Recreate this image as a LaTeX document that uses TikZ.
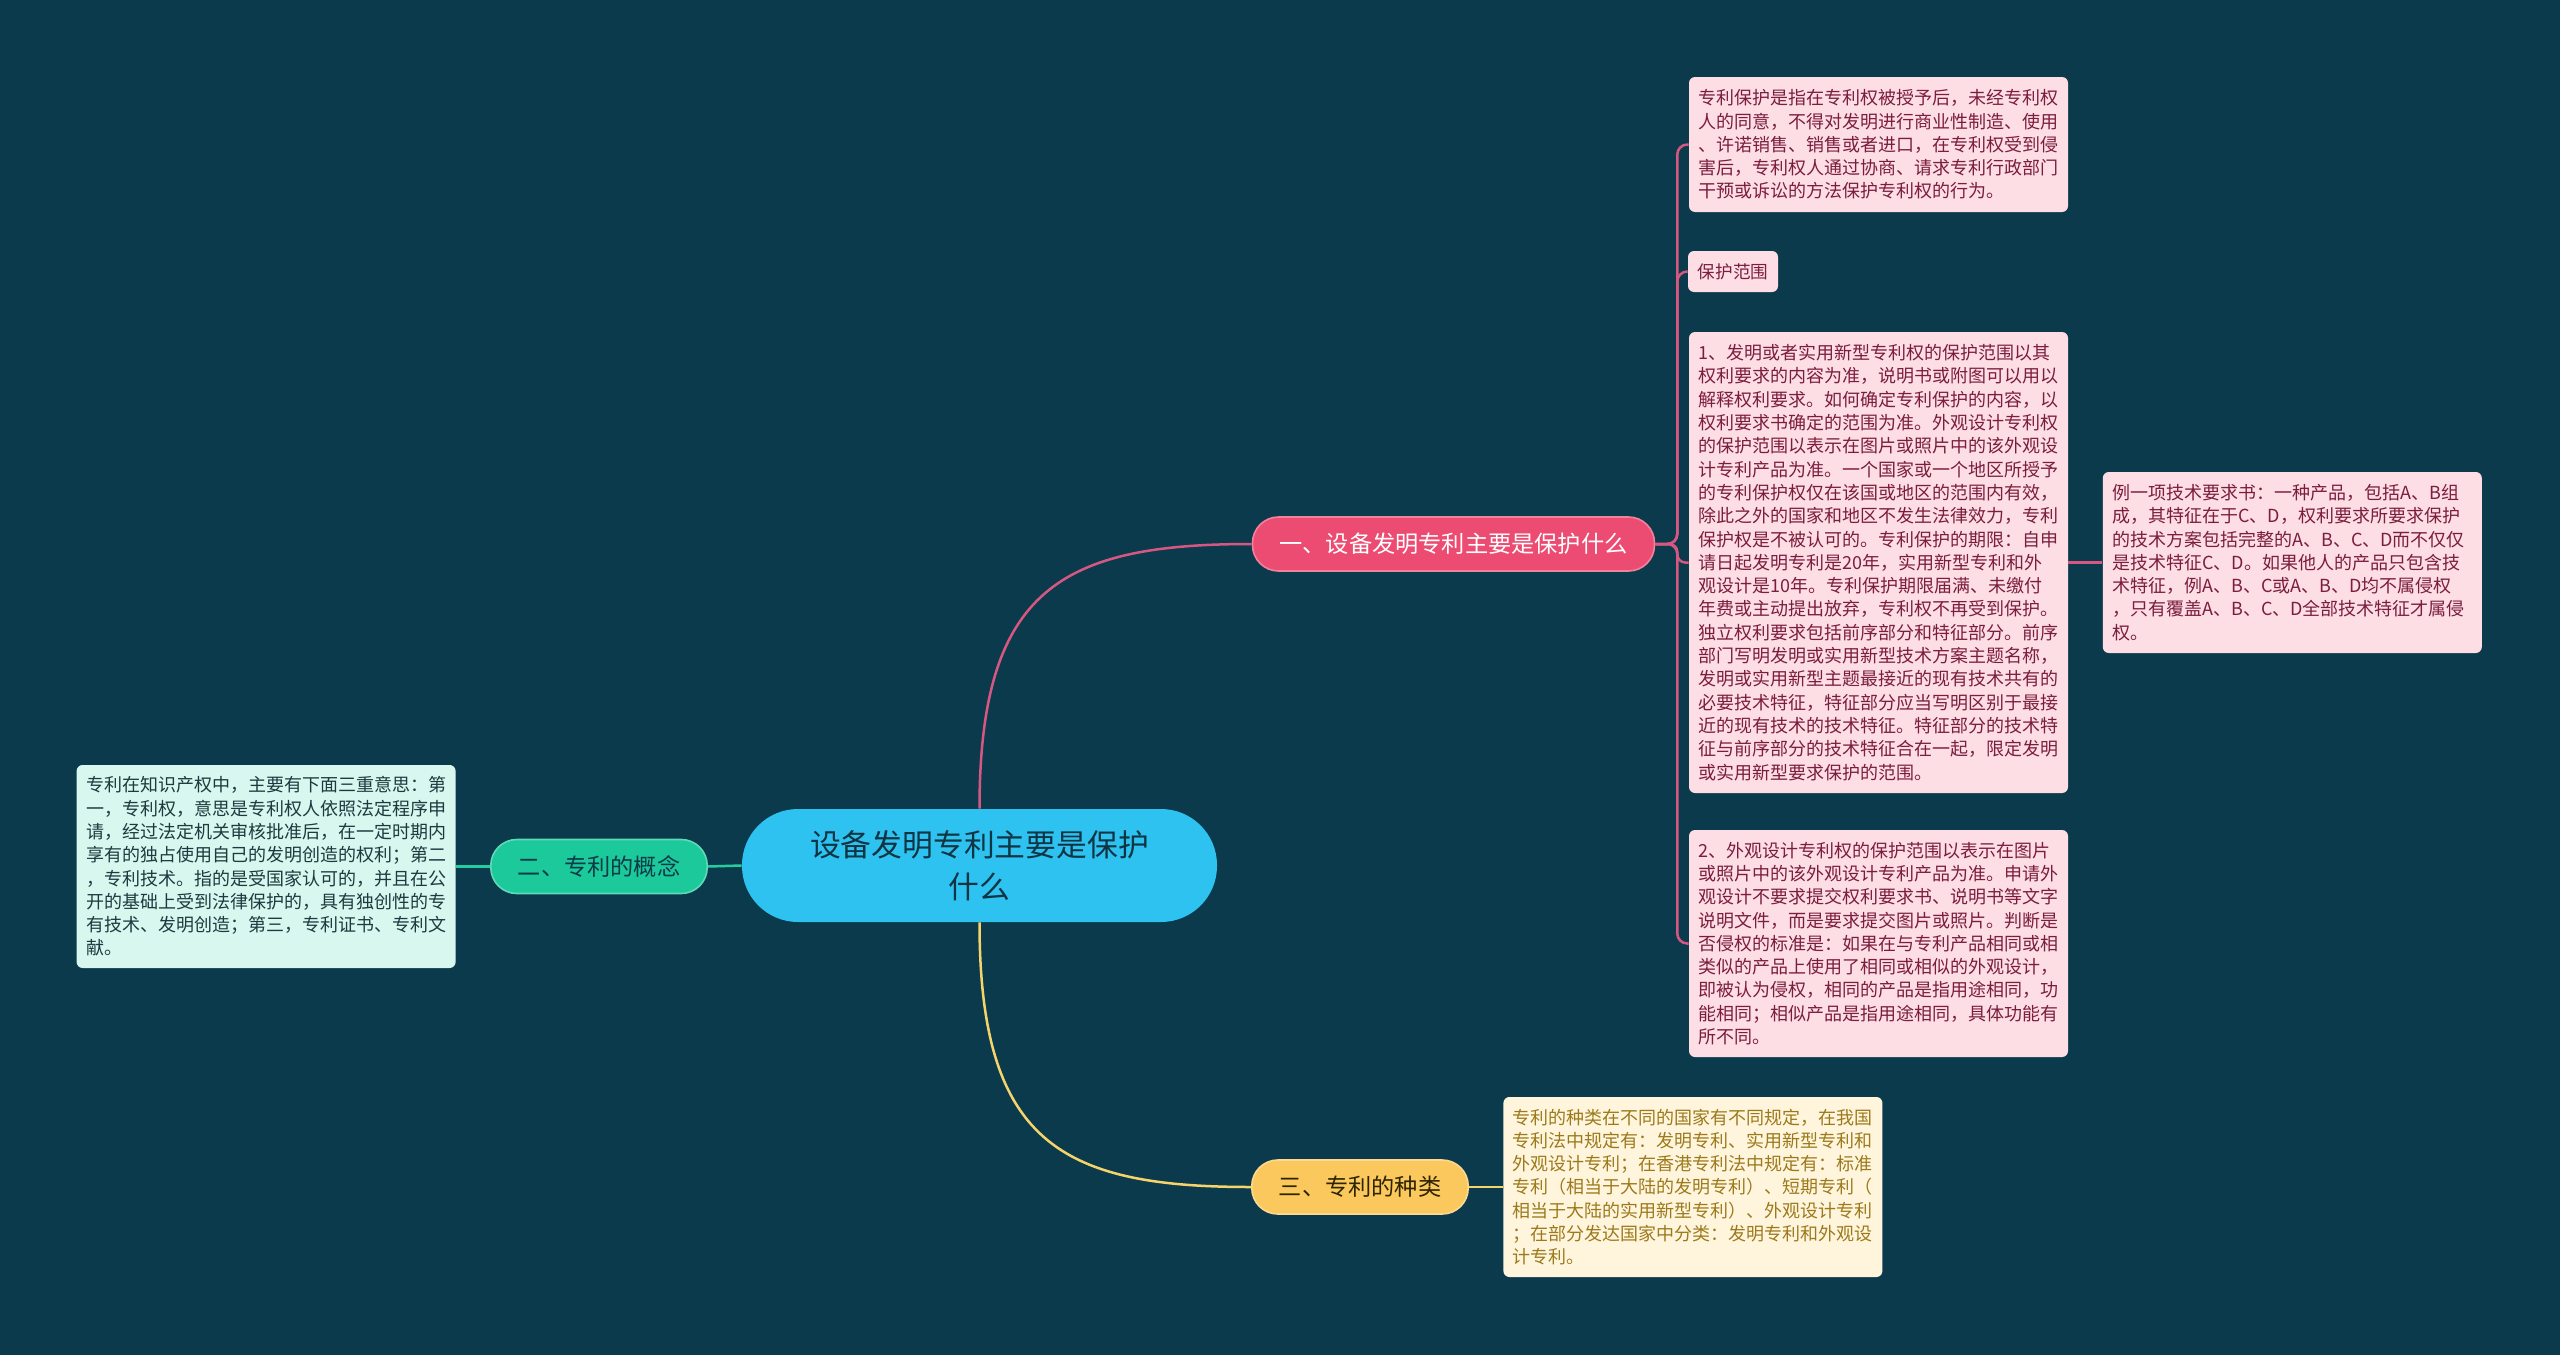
\documentclass[tikz,border=0pt]{standalone}
\usepackage{fontspec}
\setmainfont{Noto Sans CJK SC}
\usepackage{tikz}
\usetikzlibrary{positioning}

\definecolor{bgcol}{HTML}{0A3A4C}
\definecolor{topicfill}{HTML}{2EC2F0}
\definecolor{topictext}{HTML}{0F3444}
\definecolor{sec1fill}{HTML}{EC4C71}
\definecolor{pinkline}{HTML}{D65882}
\definecolor{pleaffill}{HTML}{FCDEE4}
\definecolor{pleaftext}{HTML}{7C1D3F}
\definecolor{sec2fill}{HTML}{1BC99A}
\definecolor{sec2text}{HTML}{0B3A48}
\definecolor{greenline}{HTML}{26CCA0}
\definecolor{gleaffill}{HTML}{D8F7EE}
\definecolor{gleaftext}{HTML}{1D3A40}
\definecolor{sec3fill}{HTML}{FAC85D}
\definecolor{sec3text}{HTML}{2E2400}
\definecolor{yellowline}{HTML}{F4D46B}
\definecolor{yleaffill}{HTML}{FFF5DC}
\definecolor{yleaftext}{HTML}{9C7A1C}

\begin{document}
\begin{tikzpicture}[
  x=0.5pt, y=-0.5pt,
  topic/.style={
    rectangle, rounded corners=28pt, fill=topicfill, text=topictext,
    font=\fontsize{15.4}{20.8}\selectfont, align=center,
    minimum width=237.5pt, minimum height=56.5pt
  },
  sub/.style={
    rectangle, rounded corners=13pt, fill=#1, draw=#1!70!white,
    line width=0.8pt, font=\fontsize{11.6}{14}\selectfont,
    inner xsep=13.5pt, minimum height=27pt
  },
  leaf/.style={
    rectangle, rounded corners=3pt, align=left, text width=180pt,
    inner xsep=4.75pt, font=\fontsize{9}{11.65}\selectfont
  },
  pleaf/.style={leaf, fill=pleaffill, text=pleaftext},
  gleaf/.style={leaf, fill=gleaffill, text=gleaftext},
  yleaf/.style={leaf, fill=yleaffill, text=yleaftext},
  ptag/.style={
    rectangle, rounded corners=3pt, fill=pleaffill, text=pleaftext,
    font=\fontsize{8.8}{11}\selectfont, minimum width=45pt, minimum height=20.5pt,
    inner sep=2pt
  },
  plink/.style={draw=pinkline, line width=1.25pt},
  glink/.style={draw=greenline, line width=1.25pt},
  ylink/.style={draw=yellowline, line width=1.25pt}
]

% === Background ===
\fill[bgcol] (0,0) rectangle (2560,1355);
\useasboundingbox (0,0) rectangle (2560,1355);

% === Central topic ===
\node[topic] (root) at (979.5,865.5) {设备发明专利主要是保护\\什么};

% === Branches ===
\node[sub=sec1fill, text=white] (sec1) at (1453.5,544) {一、设备发明专利主要是保护什么};
\node[sub=sec2fill, text=sec2text] (sec2) at (599,866.5) {二、专利的概念};
\node[sub=sec3fill, text=sec3text] (sec3) at (1360,1187) {三、专利的种类};

% === Leaves of branch 1 ===
\node[pleaf, minimum height=67.5pt] (def) at (1878.5,144.5) {
  专利保护是指在专利权被授予后，未经专利权\\
  人的同意，不得对发明进行商业性制造、使用\\
  、许诺销售、销售或者进口，在专利权受到侵\\
  害后，专利权人通过协商、请求专利行政部门\\
  干预或诉讼的方法保护专利权的行为。
};

\node[ptag] (rng) at (1733,271.5) {保护范围};

\node[pleaf, minimum height=230.5pt] (rng1) at (1878.5,562.5) {
  1、发明或者实用新型专利权的保护范围以其\\
  权利要求的内容为准，说明书或附图可以用以\\
  解释权利要求。如何确定专利保护的内容，以\\
  权利要求书确定的范围为准。外观设计专利权\\
  的保护范围以表示在图片或照片中的该外观设\\
  计专利产品为准。一个国家或一个地区所授予\\
  的专利保护权仅在该国或地区的范围内有效，\\
  除此之外的国家和地区不发生法律效力，专利\\
  保护权是不被认可的。专利保护的期限：自申\\
  请日起发明专利是20年，实用新型专利和外\\
  观设计是10年。专利保护期限届满、未缴付\\
  年费或主动提出放弃，专利权不再受到保护。\\
  独立权利要求包括前序部分和特征部分。前序\\
  部门写明发明或实用新型技术方案主题名称，\\
  发明或实用新型主题最接近的现有技术共有的\\
  必要技术特征，特征部分应当写明区别于最接\\
  近的现有技术的技术特征。特征部分的技术特\\
  征与前序部分的技术特征合在一起，限定发明\\
  或实用新型要求保护的范围。
};

\node[pleaf, minimum height=113.5pt] (rng2) at (1878.5,943.5) {
  2、外观设计专利权的保护范围以表示在图片\\
  或照片中的该外观设计专利产品为准。申请外\\
  观设计不要求提交权利要求书、说明书等文字\\
  说明文件，而是要求提交图片或照片。判断是\\
  否侵权的标准是：如果在与专利产品相同或相\\
  类似的产品上使用了相同或相似的外观设计，\\
  即被认为侵权，相同的产品是指用途相同，功\\
  能相同；相似产品是指用途相同，具体功能有\\
  所不同。
};

\node[pleaf, minimum height=90.5pt, right=17pt of rng1] (ex) {
  例一项技术要求书：一种产品，包括A、B组\\
  成，其特征在于C、D，权利要求所要求保护\\
  的技术方案包括完整的A、B、C、D而不仅仅\\
  是技术特征C、D。如果他人的产品只包含技\\
  术特征，例A、B、C或A、B、D均不属侵权\\
  ，只有覆盖A、B、C、D全部技术特征才属侵\\
  权。
};

% === Leaves of branches 2 and 3 ===
\node[gleaf, minimum height=101.5pt, left=17pt of sec2] (concept) {
  专利在知识产权中，主要有下面三重意思：第\\
  一，专利权，意思是专利权人依照法定程序申\\
  请，经过法定机关审核批准后，在一定时期内\\
  享有的独占使用自己的发明创造的权利；第二\\
  ，专利技术。指的是受国家认可的，并且在公\\
  开的基础上受到法律保护的，具有独创性的专\\
  有技术、发明创造；第三，专利证书、专利文\\
  献。
};

\node[yleaf, minimum height=90pt, right=17pt of sec3] (kind) {
  专利的种类在不同的国家有不同规定，在我国\\
  专利法中规定有：发明专利、实用新型专利和\\
  外观设计专利；在香港专利法中规定有：标准\\
  专利（相当于大陆的发明专利）、短期专利（\\
  相当于大陆的实用新型专利）、外观设计专利\\
  ；在部分发达国家中分类：发明专利和外观设\\
  计专利。
};

% === Connectors ===
\draw[plink] (root.north) .. controls +(0,-220) and +(-190,0) .. (sec1.west);
\draw[ylink] (root.south) .. controls +(0,220) and +(-190,0) .. (sec3.west);
\draw[glink] (root.west) -- (sec2.east);
\draw[glink] (sec2.west) -- (concept.east);
\draw[ylink] (sec3.east) -- (kind.west);
\draw[plink] (rng1.east) -- (ex.west);

\foreach \leafname in {def, rng, rng2}
  \draw[plink, rounded corners=5pt] (sec1.east) -- ++(22,0) |- (\leafname.west);
\draw[plink, rounded corners=4pt] (sec1.east) -- ++(22,0) |- (rng1.west);

\end{tikzpicture}
\end{document}
